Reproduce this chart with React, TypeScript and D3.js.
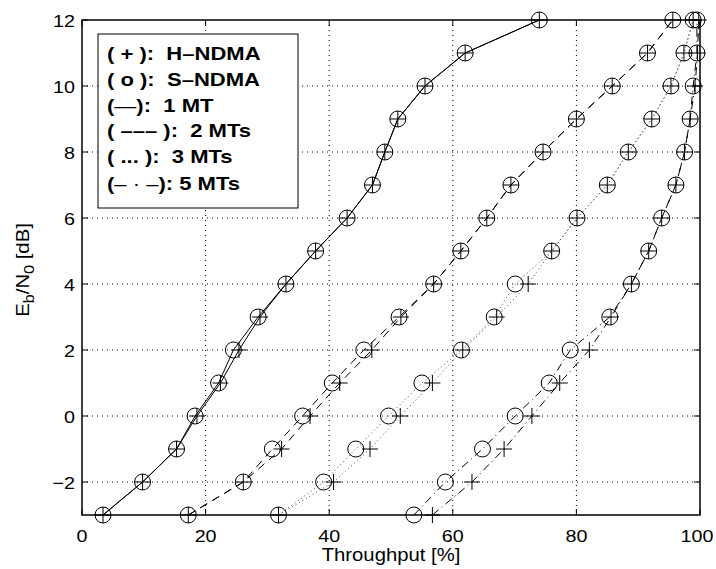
import React from "react";
import * as d3 from "d3";

const ebn0 = [-3, -2, -1, 0, 1, 2, 3, 4, 5, 6, 7, 8, 9, 10, 11, 12];

const sndma1 = [3.4, 9.8, 15.3, 18.3, 22.1, 24.5, 28.5, 33.0, 37.8, 42.9, 47.0, 49.0, 51.1, 55.5, 62.0, 74.0];
const hndma1 = [3.4, 9.8, 15.3, 18.6, 22.4, 25.4, 28.8, 33.0, 37.8, 42.9, 47.0, 49.0, 51.1, 55.5, 62.0, 74.0];

const sndma2 = [17.2, 26.1, 30.8, 35.7, 40.5, 45.6, 51.3, 56.9, 61.3, 65.5, 69.4, 74.6, 80.0, 85.8, 91.5, 95.6];
const hndma2 = [17.2, 26.1, 32.3, 36.9, 41.7, 46.9, 51.6, 56.9, 61.3, 65.5, 69.4, 74.6, 80.0, 85.8, 91.5, 95.6];

const sndma3 = [31.8, 39.1, 44.3, 49.6, 55.0, 61.4, 66.7, 70.1, 76.0, 80.1, 85.0, 88.4, 92.2, 95.3, 97.4, 98.9];
const hndma3 = [31.8, 40.7, 46.6, 51.5, 56.7, 61.6, 67.1, 72.2, 76.0, 80.1, 85.0, 88.4, 92.2, 95.3, 97.4, 98.9];

const sndma5 = [53.7, 58.8, 64.8, 70.1, 75.6, 79.0, 85.4, 88.9, 91.7, 93.8, 96.1, 97.5, 98.4, 98.9, 99.5, 99.5];
const hndma5 = [56.7, 63.1, 68.3, 72.8, 77.3, 82.1, 85.6, 88.9, 91.7, 93.8, 96.1, 97.5, 98.4, 99.2, 99.6, 99.8];

const xTicks = [0, 20, 40, 60, 80, 100];
const yTicks = [-2, 0, 2, 4, 6, 8, 10, 12];

const legendRows = [
  [["( + ):  H–NDMA", "bold"]],
  [["( o ):  S–NDMA", "bold"]],
  [["(", "bold"], ["—", "normal"], ["):  1 MT", "bold"]],
  [["( ––– ):  2 MTs", "bold"]],
  [["( ... ):  3 MTs", "bold"]],
  [["(", "bold"], ["– · –", "normal"], ["): 5 MTs", "bold"]],
];

const series = [
  { x: hndma1, marker: "plus", dash: null },
  { x: sndma1, marker: "circle", dash: null },
  { x: hndma2, marker: "plus", dash: "8,6" },
  { x: sndma2, marker: "circle", dash: "8,6" },
  { x: hndma3, marker: "plus", dash: "1,3" },
  { x: sndma3, marker: "circle", dash: "1,3" },
  { x: hndma5, marker: "plus", dash: "8,4,1,4" },
  { x: sndma5, marker: "circle", dash: "8,4,1,4" },
];

const L = 82, R = 700, T = 20, B = 515;
const FONT = "'Liberation Sans', Arial, Helvetica, sans-serif";
const SX = 1.16;

function Txt(props: { x: number; y: number; anchor?: string; size?: number; weight?: string; rotate?: number; children: any }) {
  const { x, y, anchor = "start", size = 17, weight = "normal", rotate = 0, children } = props;
  return (
    <g transform={`translate(${x},${y}) rotate(${rotate}) scale(${SX},1)`}>
      <text x={0} y={0} textAnchor={anchor as any} fontFamily={FONT} fontSize={size} fontWeight={weight as any} style={{ whiteSpace: "pre" }}>
        {children}
      </text>
    </g>
  );
}

export default function App() {
  const xs = d3.scaleLinear().domain([0, 100]).range([L, R]);
  const ys = d3.scaleLinear().domain([-3, 12]).range([B, T]);
  const line = d3
    .line<[number, number]>()
    .x((d) => xs(d[0]))
    .y((d) => ys(d[1]));
  const rowY = [60, 86, 112, 137, 163, 190];
  return (
    <div style={{ position: "absolute", left: 0, top: 0 }}>
      <svg width={716} height={569} style={{ display: "block", background: "#fff" }}>
        <rect x={0} y={0} width={716} height={569} fill="#fff" />
        {xTicks.slice(1, -1).map((t) => (
          <line key={"gx" + t} x1={xs(t)} x2={xs(t)} y1={T} y2={B} stroke="#000" strokeWidth={1} strokeDasharray="1,4" />
        ))}
        {yTicks.slice(0, -1).map((t) => (
          <line key={"gy" + t} x1={L} x2={R} y1={ys(t)} y2={ys(t)} stroke="#000" strokeWidth={1} strokeDasharray="1,4" />
        ))}
        {xTicks.map((t) => (
          <g key={"tx" + t}>
            <line x1={xs(t)} x2={xs(t)} y1={B} y2={B - 6} stroke="#000" />
            <line x1={xs(t)} x2={xs(t)} y1={T} y2={T + 6} stroke="#000" />
            <Txt x={Math.min(xs(t), 697)} y={B + 27} anchor="middle">{String(t)}</Txt>
          </g>
        ))}
        {yTicks.map((t) => (
          <g key={"ty" + t}>
            <line x1={L} x2={L + 6} y1={ys(t)} y2={ys(t)} stroke="#000" />
            <line x1={R} x2={R - 6} y1={ys(t)} y2={ys(t)} stroke="#000" />
            <Txt x={L - 7} y={ys(t) + 6.5} anchor="end">{t < 0 ? "−" + Math.abs(t) : String(t)}</Txt>
          </g>
        ))}
        {series.map((s, i) => {
          const pts: [number, number][] = s.x.map((v, j) => [v, ebn0[j]]);
          return (
            <g key={"s" + i}>
              <path
                d={line(pts) || ""}
                fill="none"
                stroke={s.dash === "1,3" ? "#444" : "#000"}
                strokeWidth={1}
                strokeDasharray={s.dash || undefined}
              />
              {pts.map((p, j) =>
                s.marker === "circle" ? (
                  <circle key={j} cx={xs(p[0])} cy={ys(p[1])} r={8} fill="none" stroke="#000" strokeWidth={1} />
                ) : (
                  <g key={j}>
                    <line x1={xs(p[0]) - 8} x2={xs(p[0]) + 8} y1={ys(p[1])} y2={ys(p[1])} stroke="#000" strokeWidth={1} />
                    <line x1={xs(p[0])} x2={xs(p[0])} y1={ys(p[1]) - 8} y2={ys(p[1]) + 8} stroke="#000" strokeWidth={1} />
                  </g>
                )
              )}
            </g>
          );
        })}
        <rect x={L} y={T} width={R - L} height={B - T} fill="none" stroke="#000" strokeWidth={1.5} />
        <rect x={98} y={34} width={200} height={174} fill="#fff" stroke="#000" strokeWidth={1} />
        {legendRows.map((r, i) => (
          <Txt key={"lg" + i} x={107} y={rowY[i]} size={19}>
            {r.map((p, k) => (
              <tspan key={k} fontWeight={p[1] as any}>
                {p[0]}
              </tspan>
            ))}
          </Txt>
        ))}
        <Txt x={391} y={561} anchor="middle" size={17.5}>Throughput [%]</Txt>
        <Txt x={29} y={270} anchor="middle" rotate={-90} size={17.5}>
          E<tspan dy={5} fontSize={14}>b</tspan>
          <tspan dy={-5}>/N</tspan>
          <tspan dy={5} fontSize={14}>0</tspan>
          <tspan dy={-5}> [dB]</tspan>
        </Txt>
      </svg>
    </div>
  );
}
